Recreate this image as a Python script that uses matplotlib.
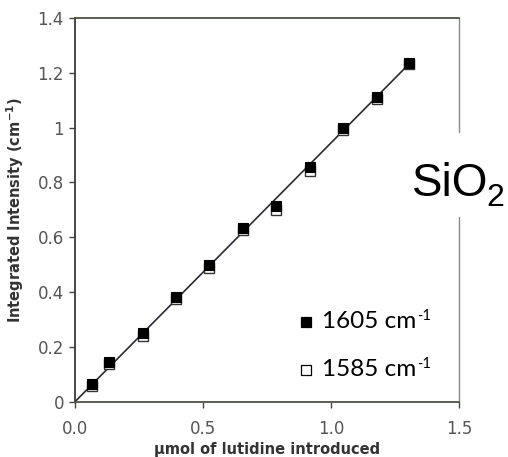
import numpy as np
import matplotlib
matplotlib.use("Agg")
import matplotlib.pyplot as plt

# Lutidine adsorbed on SiO2: integrated band intensity vs. amount introduced
lutidine_umol = [0.066, 0.133, 0.266, 0.395, 0.523, 0.656, 0.785, 0.918, 1.047, 1.180, 1.305]
band_1605 = [0.065, 0.145, 0.252, 0.383, 0.500, 0.635, 0.715, 0.857, 0.997, 1.110, 1.237]
band_1585 = [0.058, 0.138, 0.240, 0.375, 0.488, 0.625, 0.700, 0.843, 0.990, 1.104, 1.232]

x_ticks = [0.0, 0.5, 1.0, 1.5]
x_ticklabels = ["0.0", "0.5", "1.0", "1.5"]
y_ticks = [0, 0.2, 0.4, 0.6, 0.8, 1.0, 1.2, 1.4]
y_ticklabels = ["0", "0.2", "0.4", "0.6", "0.8", "1", "1.2", "1.4"]

plt.rcParams["font.family"] = ["DejaVu Sans"]
plt.rcParams["mathtext.fontset"] = "custom"
plt.rcParams["mathtext.rm"] = "DejaVu Sans"
plt.rcParams["mathtext.bf"] = "DejaVu Sans:bold"

W, H = 508, 457
fig = plt.figure(figsize=(W / 100, H / 100), dpi=100)
ax = fig.add_axes([75 / W, 1 - 401.7 / H, 384 / W, 383.7 / H])

xs = np.asarray(lutidine_umol)

# Least-squares line through the origin for the 1605 cm-1 band
v = np.asarray(band_1605)
slope = np.sum(xs * v) / np.sum(xs * xs)
xl = np.array([0.0, xs.max()])
ax.plot(xl, slope * xl, color="#2a2a35", lw=1.2, zorder=2)

ax.plot(lutidine_umol, band_1585, ls="none", marker="s", ms=7.5,
        mfc="white", mec="#333333", mew=1.0, zorder=3)
ax.plot(lutidine_umol, band_1605, ls="none", marker="s", ms=7.5,
        mfc="black", mec="black", mew=0.8, zorder=4)

ax.set_xlim(0, 1.5)
ax.set_ylim(0, 1.4)
ax.set_xticks(x_ticks)
ax.set_xticklabels(x_ticklabels)
ax.set_yticks(y_ticks)
ax.set_yticklabels(y_ticklabels)
ax.tick_params(axis="both", direction="out", length=4, width=1,
               colors="#444444", labelsize=12, labelcolor="#555555")
ax.tick_params(axis="x", pad=9)
ax.tick_params(axis="y", pad=4)

for side, col in (("top", "#4b5244"), ("bottom", "#4b5244"),
                  ("left", "#3a3a3a"), ("right", "#8a8a8a")):
    ax.spines[side].set_color(col)
    ax.spines[side].set_linewidth(1.3 if side != "right" else 1.0)

ax.set_xlabel("\u00b5mol of lutidine introduced", fontsize=10.5, fontweight="bold",
              color="#333333", labelpad=3)
ax.set_ylabel(r"Integrated Intensity (cm$^{\mathbf{-1}}$)", fontsize=10.5,
              fontweight="bold", color="#333333", labelpad=8)

renderer = fig.canvas.get_renderer()

# Sample label, on a white patch that breaks the right frame line
fig.patches.append(plt.Rectangle((405 / W, 1 - 217 / H), 103 / W, 84 / H,
                                 transform=fig.transFigure, facecolor="white",
                                 edgecolor="none", zorder=5))
t_main = fig.text(412 / W, 1 - 196 / H, "SiO", fontsize=33, color="black",
                  family=["Liberation Sans"], va="baseline", ha="left", zorder=6)
bb = t_main.get_window_extent(renderer=renderer)
fig.text((bb.x1 - 2) / W, 1 - 206 / H, "2", fontsize=23, color="black",
         family=["Liberation Sans"], va="baseline", ha="left", zorder=6)

# Key for the two bands
key_items = [("1605 cm", "black", 322), ("1585 cm", "white", 370)]
for label, face, ypix in key_items:
    fig.lines.append(plt.Line2D([306 / W], [1 - ypix / H], transform=fig.transFigure,
                                marker="s", ms=7.5, mfc=face, mec="black", mew=0.9, ls="none"))
    t = fig.text(322 / W, 1 - ypix / H, label, fontsize=17.5,
                 family=["Lato", "DejaVu Sans"], va="center", ha="left", color="black")
    bb = t.get_window_extent(renderer=renderer)
    fig.text((bb.x1 + 1) / W, (bb.y1 - 4) / H, "-1", fontsize=10.5,
             family=["Lato", "DejaVu Sans"], va="center", ha="left", color="black")

fig.savefig("out.png", dpi=100)
